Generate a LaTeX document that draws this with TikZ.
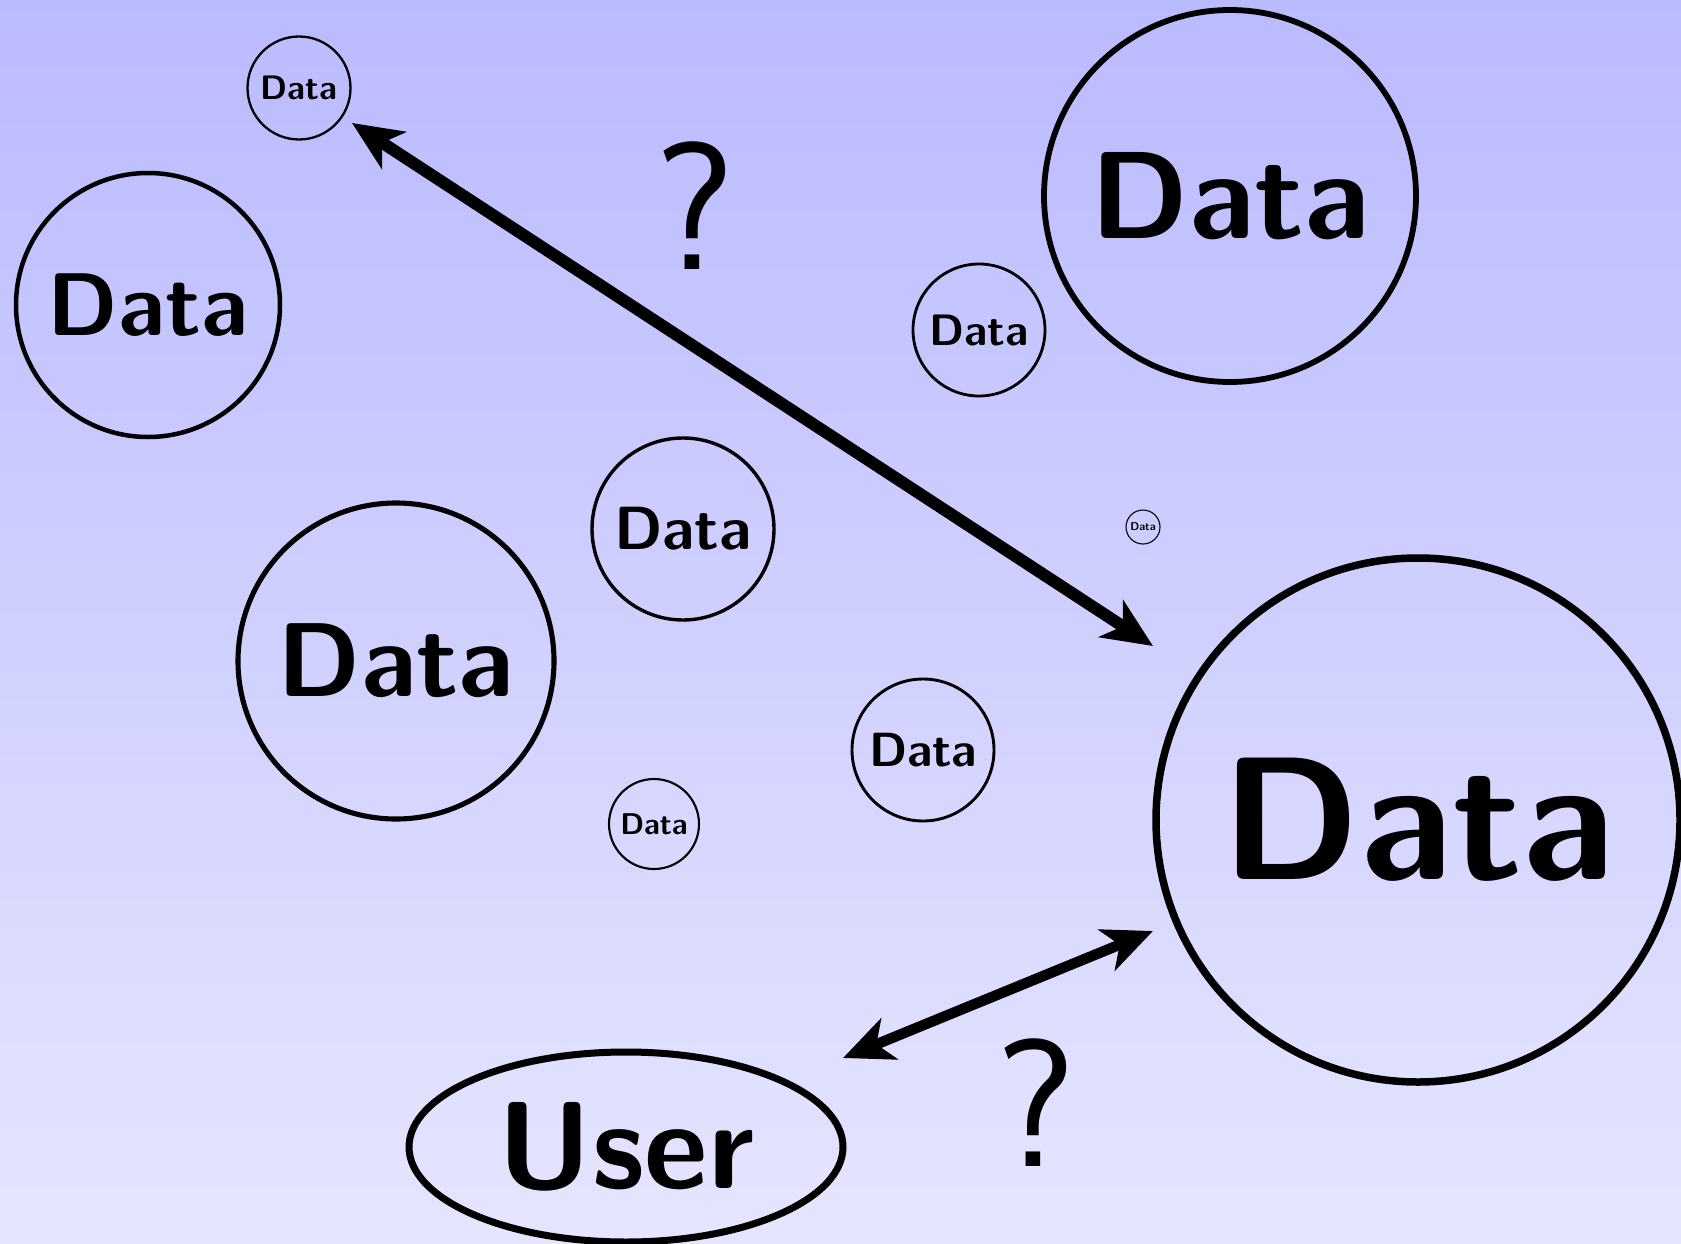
\documentclass[tikz,border=0pt]{standalone}
\usepackage{fontspec}
\usetikzlibrary{arrows.meta,shapes.geometric}
\tikzset{
  datanode/.style={circle,draw=black,inner sep=0pt,font=\sffamily\bfseries},
  bigarrow/.style={line width=#1,{Stealth[length=50pt,width=44pt,inset=14pt]}-{Stealth[length=50pt,width=44pt,inset=14pt]},shorten <=0pt,shorten >=0pt},
  qmark/.style={inner sep=0pt,font=\sffamily\fontsize{182}{182}\selectfont}
}
\begin{document}
\begin{tikzpicture}[x=1pt,y=-1pt]
\shade[top color=blue!27,bottom color=blue!10] (0,0) rectangle (1681,1244);
\useasboundingbox (0,0) rectangle (1681,1244);
\node[datanode,minimum size=103pt,line width=2.3pt,font=\sffamily\bfseries\fontsize{34}{34}\selectfont] (d1) at (299,88) {Data};
\node[datanode,minimum size=264pt,line width=4.5pt,font=\sffamily\bfseries\fontsize{89}{89}\selectfont] (d2) at (148,305) {Data};
\node[datanode,minimum size=372pt,line width=5.8pt,font=\sffamily\bfseries\fontsize{124}{124}\selectfont] (d3) at (1230,196) {Data};
\node[datanode,minimum size=132pt,line width=2.8pt,font=\sffamily\bfseries\fontsize{44}{44}\selectfont] (d4) at (979,330) {Data};
\node[datanode,minimum size=182pt,line width=3.4pt,font=\sffamily\bfseries\fontsize{61}{61}\selectfont] (d5) at (683,529) {Data};
\node[datanode,minimum size=316pt,line width=5.1pt,font=\sffamily\bfseries\fontsize{105}{105}\selectfont] (d6) at (396,661) {Data};
\node[datanode,minimum size=34pt,line width=1.1pt,font=\sffamily\bfseries\fontsize{11.3}{11.3}\selectfont] (d7) at (1143,527) {Data};
\node[datanode,minimum size=524pt,line width=7.5pt,font=\sffamily\bfseries\fontsize{175}{175}\selectfont] (d8) at (1418,820) {Data};
\node[datanode,minimum size=142pt,line width=2.9pt,font=\sffamily\bfseries\fontsize{48}{48}\selectfont] (d9) at (923,750) {Data};
\node[datanode,minimum size=90pt,line width=2.1pt,font=\sffamily\bfseries\fontsize{30}{30}\selectfont] (d10) at (654,824) {Data};
\node[ellipse,draw=black,inner sep=0pt,minimum width=434pt,minimum height=190pt,line width=7pt,font=\sffamily\bfseries\fontsize{124}{124}\selectfont] (user) at (626,1147) {User};
\node[qmark] (q1) at (695,206) {?};
\node[qmark] (q2) at (1036,1103) {?};
\coordinate (a1s) at (352,123);
\coordinate (a1e) at (1153,646);
\coordinate (a2s) at (843,1058);
\coordinate (a2e) at (1153,931);
\draw[bigarrow=12pt] (a1s) -- (a1e);
\draw[bigarrow=10.5pt] (a2s) -- (a2e);
\end{tikzpicture}
\end{document}
